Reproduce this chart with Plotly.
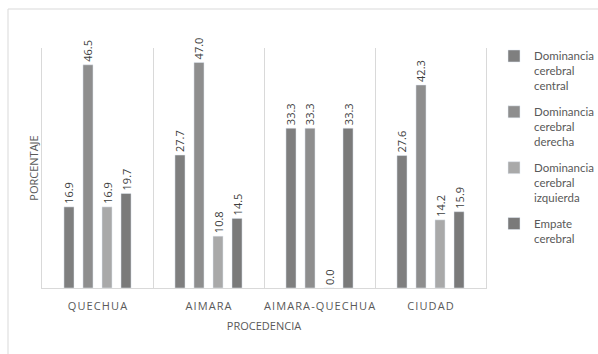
import plotly.graph_objects as go

categories = ["QUECHUA", "AIMARA", "AIMARA-QUECHUA", "CIUDAD"]
series_names = [
    "Dominancia<br>cerebral<br>central",
    "Dominancia<br>cerebral<br>derecha",
    "Dominancia<br>cerebral<br>izquierda",
    "Empate<br>cerebral",
]
central = [16.9, 27.7, 33.3, 27.6]
derecha = [46.5, 47.0, 33.3, 42.3]
izquierda = [16.9, 10.8, 0.0, 14.2]
empate = [19.7, 14.5, 33.3, 15.9]
colors = ["#7f7f7f", "#8e8e8e", "#a9a9a9", "#7a7a7a"]

tick_labels = ["\u200a".join(list(c)) for c in categories]

fig = go.Figure()
for name, vals, col in zip(series_names, [central, derecha, izquierda, empate], colors):
    fig.add_trace(go.Bar(
        x=categories, y=vals, name=name, marker_color=col,
        text=[f"{v:.1f}" for v in vals], textposition="outside", textangle=-90,
        constraintext="none", cliponaxis=False,
        textfont=dict(size=11, color="#404040", family="Open Sans"),
        legendgroup=name,
    ))

L, R, T, B = 42, 112, 48, 66
W, H = 598, 354
pw, ph = W - L - R, H - T - B

fig.update_layout(
    width=W, height=H,
    margin=dict(l=L, r=R, t=T, b=B, autoexpand=False),
    paper_bgcolor="white", plot_bgcolor="white",
    barmode="group", bargap=0.315, bargroupgap=0.47,
    font=dict(family="Open Sans", size=11, color="#595959"),
    showlegend=True,
    legend=dict(x=(494 - L) / pw, y=(ph + 6) / ph, xanchor="left", yanchor="top",
                font=dict(size=11.5, color="#595959", family="Lato"), tracegroupgap=8,
                itemwidth=30, valign="top", maxheight=330, bgcolor="rgba(0,0,0,0)"),
    xaxis=dict(tickmode="array", tickvals=categories, ticktext=tick_labels, tickangle=0,
               automargin=False, ticklabelstandoff=8,
               tickson="boundaries", showgrid=True, gridcolor="#d9d9d9", gridwidth=1,
               ticks="", showline=True, linecolor="#d9d9d9",
               tickfont=dict(size=11, color="#595959"),
               title=dict(text="PROCEDENCIA", font=dict(size=11, color="#595959"), standoff=10)),
    yaxis=dict(range=[0, 50], showgrid=False, showticklabels=False, ticks="",
               automargin=False,
               showline=True, linecolor="#d9d9d9", mirror=True, zeroline=False,
               title=dict(text="PORCENTAJE", font=dict(size=11, color="#595959"), standoff=0)),
)

fig.add_shape(type="rect", xref="paper", yref="paper",
              x0=(8 - L) / pw, x1=(W + 2 - L) / pw,
              y0=-(B + 5) / ph, y1=(ph + T - 9) / ph,
              line=dict(color="#d9d9d9", width=1), fillcolor="rgba(0,0,0,0)", layer="below")

fig.write_html("out.html")
